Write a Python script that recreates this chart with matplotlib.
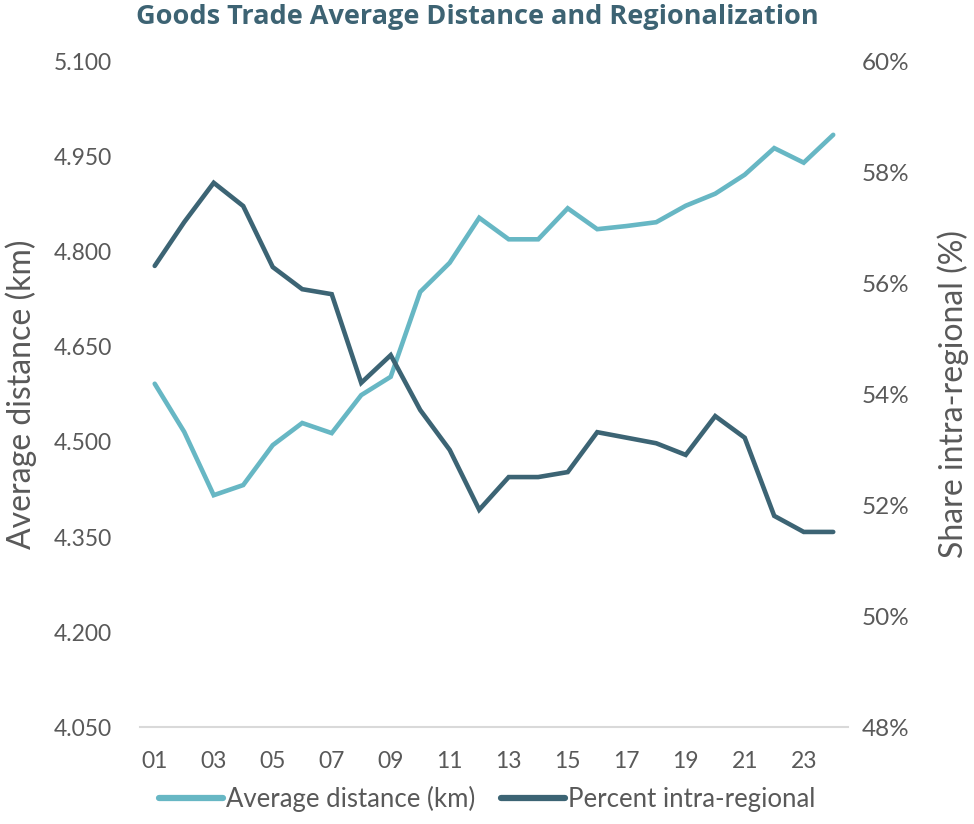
import matplotlib
matplotlib.use("Agg")
import matplotlib.pyplot as plt
from matplotlib.ticker import FuncFormatter

# years 2001..2024, labelled by two digits
years = list(range(1, 25))
avg_distance = [4.592, 4.516, 4.416, 4.432, 4.495, 4.530, 4.514, 4.574, 4.603, 4.737,
                4.783, 4.854, 4.820, 4.820, 4.869, 4.836, 4.841, 4.847, 4.873, 4.892,
                4.922, 4.964, 4.941, 4.985]
pct_intra = [56.32, 57.11, 57.82, 57.40, 56.30, 55.90, 55.81, 54.21, 54.71, 53.72,
             53.00, 51.92, 52.51, 52.51, 52.60, 53.32, 53.22, 53.12, 52.91, 53.61,
             53.22, 51.81, 51.52, 51.52]
left_ticks = [4.05, 4.20, 4.35, 4.50, 4.65, 4.80, 4.95, 5.10]
right_ticks = [48, 50, 52, 54, 56, 58, 60]

light = "#67B7C4"
dark = "#3C6474"
grey = "#595959"
plt.rcParams['font.family'] = ['Lato', 'DejaVu Sans']

fig = plt.figure(figsize=(9.74, 8.24), dpi=100)
ax = fig.add_axes([0.1437, 0.1177, 0.7269, 0.8071])
ax2 = ax.twinx()

l1, = ax.plot(years, avg_distance, color=light, lw=3.3, solid_capstyle='round',
              solid_joinstyle='miter', label='Average distance (km)')
l2, = ax2.plot(years, pct_intra, color=dark, lw=3.3, solid_capstyle='round',
               solid_joinstyle='miter', label='Percent intra-regional')

ax.set_xlim(0.5, 24.5)
ax.set_ylim(4.05, 5.10)
ax.set_yticks(left_ticks)
ax.yaxis.set_major_formatter(FuncFormatter(lambda v, p: f"{v:.3f}"))
ax2.set_ylim(48, 60)
ax2.set_yticks(right_ticks)
ax2.yaxis.set_major_formatter(FuncFormatter(lambda v, p: f"{v:.0f}%"))
ax.set_xticks(years[::2])
ax.set_xticklabels([f"{y:02d}" for y in years[::2]])

for a in (ax, ax2):
    for s in a.spines.values():
        s.set_visible(False)
    a.tick_params(length=0, labelsize=16.5, labelcolor=grey)
ax.spines['bottom'].set_visible(True)
ax.spines['bottom'].set_color('#D9D9D9')
ax.spines['bottom'].set_linewidth(1.5)
ax.tick_params(axis='y', pad=20)
ax.tick_params(axis='x', pad=17)
ax2.tick_params(axis='y', pad=10, labelsize=17.5)

ax.set_ylabel('Average distance (km)', fontsize=23, color=grey, labelpad=12)
ax2.set_ylabel('Share intra-regional (%)', fontsize=23, color=grey, labelpad=20)

fig.suptitle('Goods Trade Average Distance and Regionalization', x=0.49, y=0.995,
             fontsize=19.5, fontweight='bold', color='#3D6373', family=['Open Sans', 'DejaVu Sans'])

leg = fig.legend(handles=[l1, l2], loc='lower center', bbox_to_anchor=(0.5, -0.014), ncol=2,
                 frameon=False, fontsize=18.5, handlelength=2.5, handletextpad=0.1,
                 columnspacing=1.0)
for t in leg.get_texts():
    t.set_color(grey)
for h in leg.get_lines():
    h.set_linewidth(4.5)

fig.savefig('out.png', dpi=100)
